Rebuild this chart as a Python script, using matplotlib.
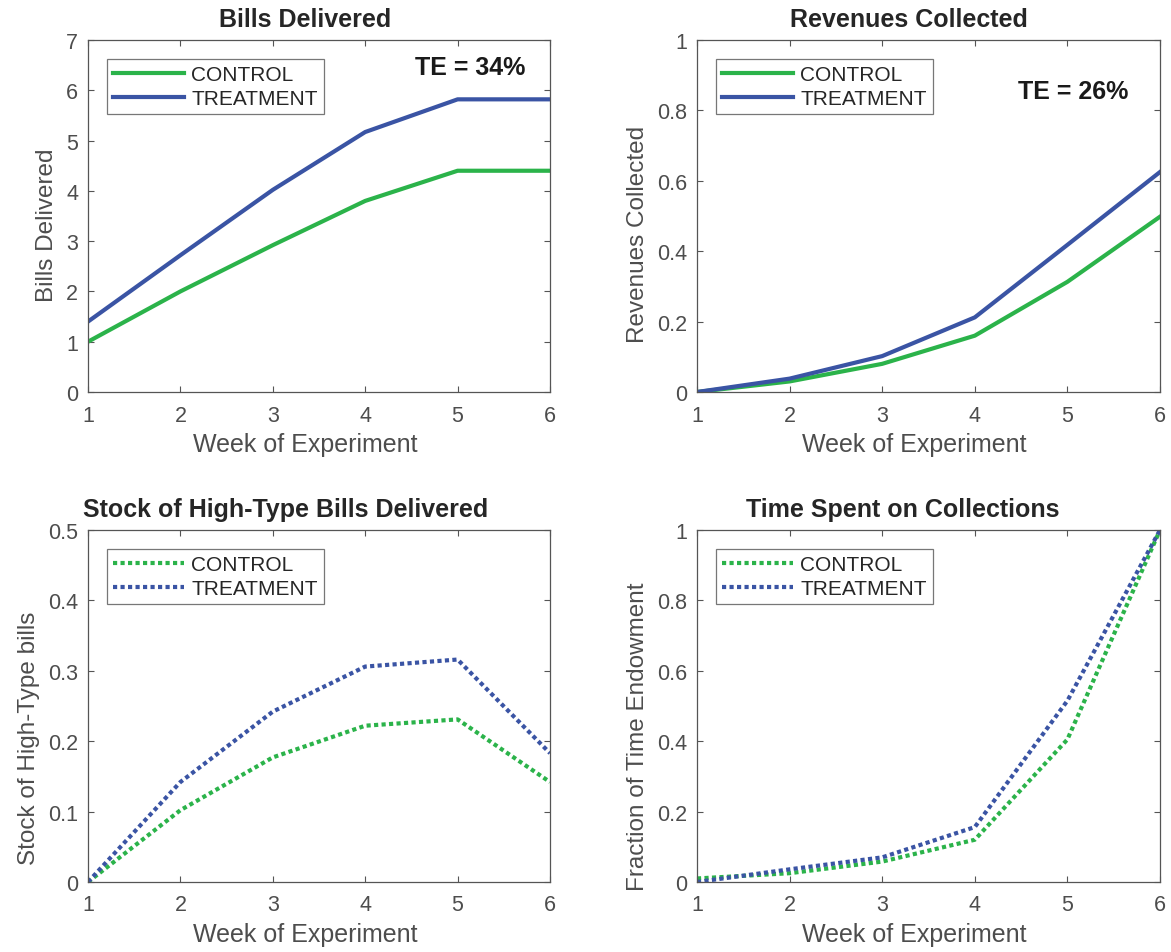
import matplotlib
matplotlib.use("Agg")
import matplotlib.pyplot as plt

weeks = [1, 2, 3, 4, 5, 6]

bills_control = [1.0, 2.0, 2.92, 3.8, 4.4, 4.4]
bills_treatment = [1.4, 2.72, 4.02, 5.17, 5.82, 5.82]

revenue_control = [0.0, 0.03, 0.08, 0.16, 0.313, 0.498]
revenue_treatment = [0.0, 0.038, 0.102, 0.212, 0.418, 0.625]

hightype_control = [0.0, 0.102, 0.177, 0.222, 0.231, 0.142]
hightype_treatment = [0.0, 0.142, 0.242, 0.306, 0.316, 0.183]

time_control = [0.01, 0.025, 0.058, 0.12, 0.405, 1.0]
time_treatment = [0.0, 0.036, 0.07, 0.156, 0.515, 1.0]

GREEN = "#2bb34a"
BLUE = "#3a54a4"
TEXT = "#262626"
AXIS = "#555555"

plt.rcParams["font.family"] = ["Liberation Sans", "DejaVu Sans"]
plt.rcParams["text.color"] = TEXT
plt.rcParams["axes.labelcolor"] = "#4d4d4d"
plt.rcParams["xtick.color"] = AXIS
plt.rcParams["ytick.color"] = AXIS
plt.rcParams["xtick.labelcolor"] = "#4d4d4d"
plt.rcParams["ytick.labelcolor"] = "#4d4d4d"

W, H = 1171, 953
fig = plt.figure(figsize=(W / 100, H / 100), dpi=100)


def make_axes(left, top, right, bottom):
    return fig.add_axes([left / W, 1 - bottom / H, (right - left) / W, (bottom - top) / H])


panels = [
    (make_axes(88, 41, 550, 393), "Bills Delivered", "Bills Delivered",
     bills_control, bills_treatment, "-", (0, 7), list(range(8)), ["0", "1", "2", "3", "4", "5", "6", "7"],
     ("TE = 34%", 0.827, 0.923)),
    (make_axes(697, 41, 1160, 393), "Revenues Collected", "Revenues Collected",
     revenue_control, revenue_treatment, "-", (0, 1), [0, 0.2, 0.4, 0.6, 0.8, 1],
     ["0", "0.2", "0.4", "0.6", "0.8", "1"], ("TE = 26%", 0.812, 0.855)),
    (make_axes(88, 531, 550, 883), "Stock of High-Type Bills Delivered", "Stock of High-Type bills",
     hightype_control, hightype_treatment, (0, (1, 0.8)), (0, 0.5), [0, 0.1, 0.2, 0.3, 0.4, 0.5],
     ["0", "0.1", "0.2", "0.3", "0.4", "0.5"], None),
    (make_axes(697, 531, 1160, 883), "Time Spent on Collections", "Fraction of Time Endowment",
     time_control, time_treatment, (0, (1, 0.8)), (0, 1), [0, 0.2, 0.4, 0.6, 0.8, 1],
     ["0", "0.2", "0.4", "0.6", "0.8", "1"], None),
]

# labels start where a wider face would have been centred
ylabel_ratio = [0.9, 0.86, 0.8, 0.84]

for ax, title, ylabel, control, treatment, style, ylim, yticks, yticklabels, note in panels:
    ax.plot(weeks, control, color=GREEN, lw=3, ls=style, label="CONTROL")
    ax.plot(weeks, treatment, color=BLUE, lw=3, ls=style, label="TREATMENT")
    ax.set_xlim(1, 6)
    ax.set_ylim(*ylim)
    ax.set_xticks(weeks)
    ax.set_yticks(yticks)
    ax.set_yticklabels(yticklabels)
    ax.set_title(title, fontsize=18, fontweight="bold", color=TEXT, pad=10)
    ax.set_xlabel("Week of Experiment", fontsize=18, labelpad=5)
    ax.set_ylabel(ylabel, fontsize=17.5, labelpad=6)
    ax.tick_params(direction="in", length=4, width=0.8, top=True, right=True,
                   labelsize=15.5)
    ax.tick_params(axis="x", pad=9)
    ax.tick_params(axis="y", pad=7)
    for spine in ax.spines.values():
        spine.set_color(AXIS)
        spine.set_linewidth(0.9)
    leg = ax.legend(loc="upper left", fontsize=15, frameon=True, fancybox=False,
                    handlelength=3.4, handletextpad=0.35, borderpad=0.3,
                    labelspacing=0.25, borderaxespad=0.9)
    leg.get_frame().set_edgecolor(AXIS)
    leg.get_frame().set_linewidth(0.9)
    if note:
        text, nx, ny = note
        ax.text(nx, ny, text, transform=ax.transAxes, ha="center", va="center",
                fontsize=18, fontweight="bold", color="#1a1a1a")

fig.canvas.draw()
renderer = fig.canvas.get_renderer()
for (ax, *_), yratio in zip(panels, ylabel_ratio):
    box = ax.get_window_extent(renderer)
    t = ax.title
    w = t.get_window_extent(renderer).width
    t.set_x(0.5 - w / 0.86 / 2 / box.width)
    t.set_ha("left")
    xl = ax.xaxis.label
    w = xl.get_window_extent(renderer).width
    xl.set_x(0.5 - w / 0.89 / 2 / box.width)
    xl.set_ha("left")
    yl = ax.yaxis.label
    h = yl.get_window_extent(renderer).height
    yl.set_y(0.5 - h / yratio / 2 / box.height)
    yl.set_ha("left")

fig.savefig("out.png", dpi=100)
